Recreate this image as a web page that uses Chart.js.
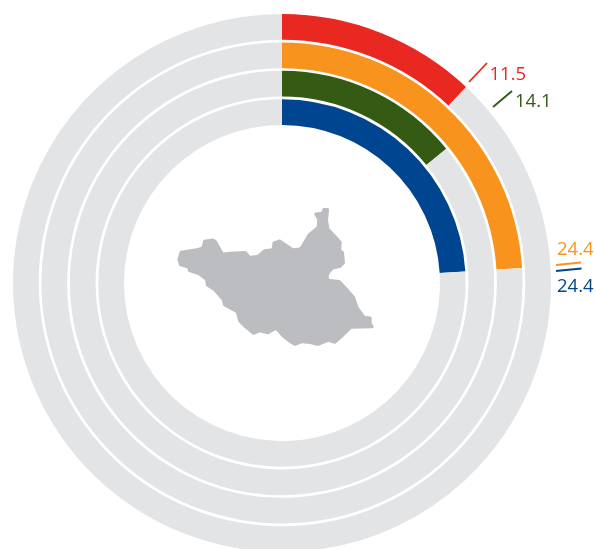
<!DOCTYPE html>
<html>
<head>
<meta charset="utf-8">
<style>
html,body{margin:0;padding:0;width:595px;height:549px;overflow:hidden;background:#fff}
#wrap{position:absolute;left:0;top:0;width:564px;height:566px}
</style>
<script src="https://cdn.jsdelivr.net/npm/chart.js@4"></script>
</head>
<body>
<div id="wrap"><canvas id="c" width="564" height="566"></canvas></div>
<script>
// Ring categories, outermost first
const ringNames = ['Red', 'Orange', 'Green', 'Blue'];
// Printed values, same order
const printedValues = [11.5, 24.4, 14.1, 24.4];
// Sweep of each coloured arc (percent of the full circle)
const redRing = [12.0, 88.0];
const orangeRing = [24.0, 76.0];
const greenRing = [14.1, 85.9];
const blueRing = [24.0, 76.0];
const ringColors = ['#e92822', '#f8941d', '#345a14', '#004590'];
const trackColor = '#e3e4e6';
const mapColor = '#bcbdc0';

// Label annotations: text position and leader line
const labelAnchors = [
  {i:0, x:489.5, y:80, line:[469,82,487,63]},
  {i:2, x:515, y:107, line:[493,107,512,91]},
  {i:1, x:557, y:255, line:[556,265,581,262.5]},
  {i:3, x:557, y:292, line:[556,271,581.5,268.5]}
];

// Country silhouette outline (page pixels)
const mapOutline = [[313.3,212.7],[321.7,212],[322.7,208],[329.3,208],[328,220],[329.3,228.3],[336.7,236],[341.7,241.7],[341.3,250],[344,251.7],[345,263.3],[340.7,268],[333.3,269.3],[329.3,274],[328.3,278.7],[340,280],[346.7,287.3],[355,296.7],[358.3,306.7],[365,316],[371.7,316.7],[371.7,323.3],[375,328.3],[351.7,328.7],[341.7,338.3],[335,344],[328.3,341.7],[318.3,346],[310,344],[301.7,343.3],[295,346],[290,343.3],[281.7,336.7],[276,330],[268.3,334.3],[260,332.3],[253.3,335],[245,328.3],[238.3,321.7],[236,312.7],[223.3,306],[221.7,300],[213.3,290.7],[206,286],[205,280],[198.3,275],[188.3,271.7],[187.3,268.3],[179.3,266],[177.3,259.3],[180,251],[196.7,248.3],[201.7,246.7],[203.3,240],[213.3,238.3],[216.7,240.7],[223.3,252.7],[230,251.7],[246,251],[250,255.7],[257.3,255],[264,249.3],[271.7,248.3],[272.7,241.7],[280,239.3],[293.3,248.3],[300,247.3],[308.3,233.3],[316.7,226.7],[317.3,220]];

const ringData = [redRing, orangeRing, greenRing, blueRing];
const ringWeight = 25.7;
const gapWeight = 2.73;
const datasets = [];
ringData.forEach((d, k) => {
  datasets.push({
    label: ringNames[k],
    data: d,
    backgroundColor: [ringColors[k], trackColor],
    borderWidth: 0,
    weight: ringWeight
  });
  if (k < ringData.length - 1) {
    datasets.push({data: [1], backgroundColor: ['rgba(0,0,0,0)'], borderWidth: 0, weight: gapWeight});
  }
});

const countryShape = {
  id: 'countryShape',
  afterDatasetsDraw(chart) {
    const ctx = chart.ctx;
    const n = mapOutline.length;
    const mid = (a, b) => [(a[0] + b[0]) / 2, (a[1] + b[1]) / 2];
    ctx.save();
    ctx.fillStyle = mapColor;
    ctx.beginPath();
    const start = mid(mapOutline[n - 1], mapOutline[0]);
    ctx.moveTo(start[0], start[1]);
    mapOutline.forEach((p, k) => {
      const next = mapOutline[(k + 1) % n];
      const m = mid(p, next);
      ctx.arcTo(p[0], p[1], m[0], m[1], 1.5);
    });
    ctx.closePath();
    ctx.fill();
    ctx.restore();
  }
};

new Chart(document.getElementById('c'), {
  type: 'doughnut',
  data: {labels: ['Share', 'Remainder'], datasets},
  plugins: [countryShape],
  options: {
    responsive: false,
    animation: false,
    devicePixelRatio: 1,
    rotation: 0,
    cutout: 158,
    layout: {padding: 13},
    plugins: {legend: {display: false}, tooltip: {enabled: false}}
  }
});

// Value labels with leader lines
const svgNS = 'http://www.w3.org/2000/svg';
const svg = document.createElementNS(svgNS, 'svg');
svg.setAttribute('width', 595);
svg.setAttribute('height', 549);
svg.style.cssText = 'position:absolute;left:0;top:0';
labelAnchors.forEach(a => {
  const l = document.createElementNS(svgNS, 'line');
  l.setAttribute('x1', a.line[0]); l.setAttribute('y1', a.line[1]);
  l.setAttribute('x2', a.line[2]); l.setAttribute('y2', a.line[3]);
  l.setAttribute('stroke', ringColors[a.i]);
  l.setAttribute('stroke-width', 1.8);
  svg.appendChild(l);
  const t = document.createElementNS(svgNS, 'text');
  t.setAttribute('x', a.x); t.setAttribute('y', a.y);
  t.setAttribute('fill', ringColors[a.i]);
  t.setAttribute('font-family', 'Open Sans');
  t.setAttribute('font-size', 18.5);
  t.textContent = printedValues[a.i].toFixed(1);
  svg.appendChild(t);
});
document.body.appendChild(svg);
</script>
</body>
</html>
